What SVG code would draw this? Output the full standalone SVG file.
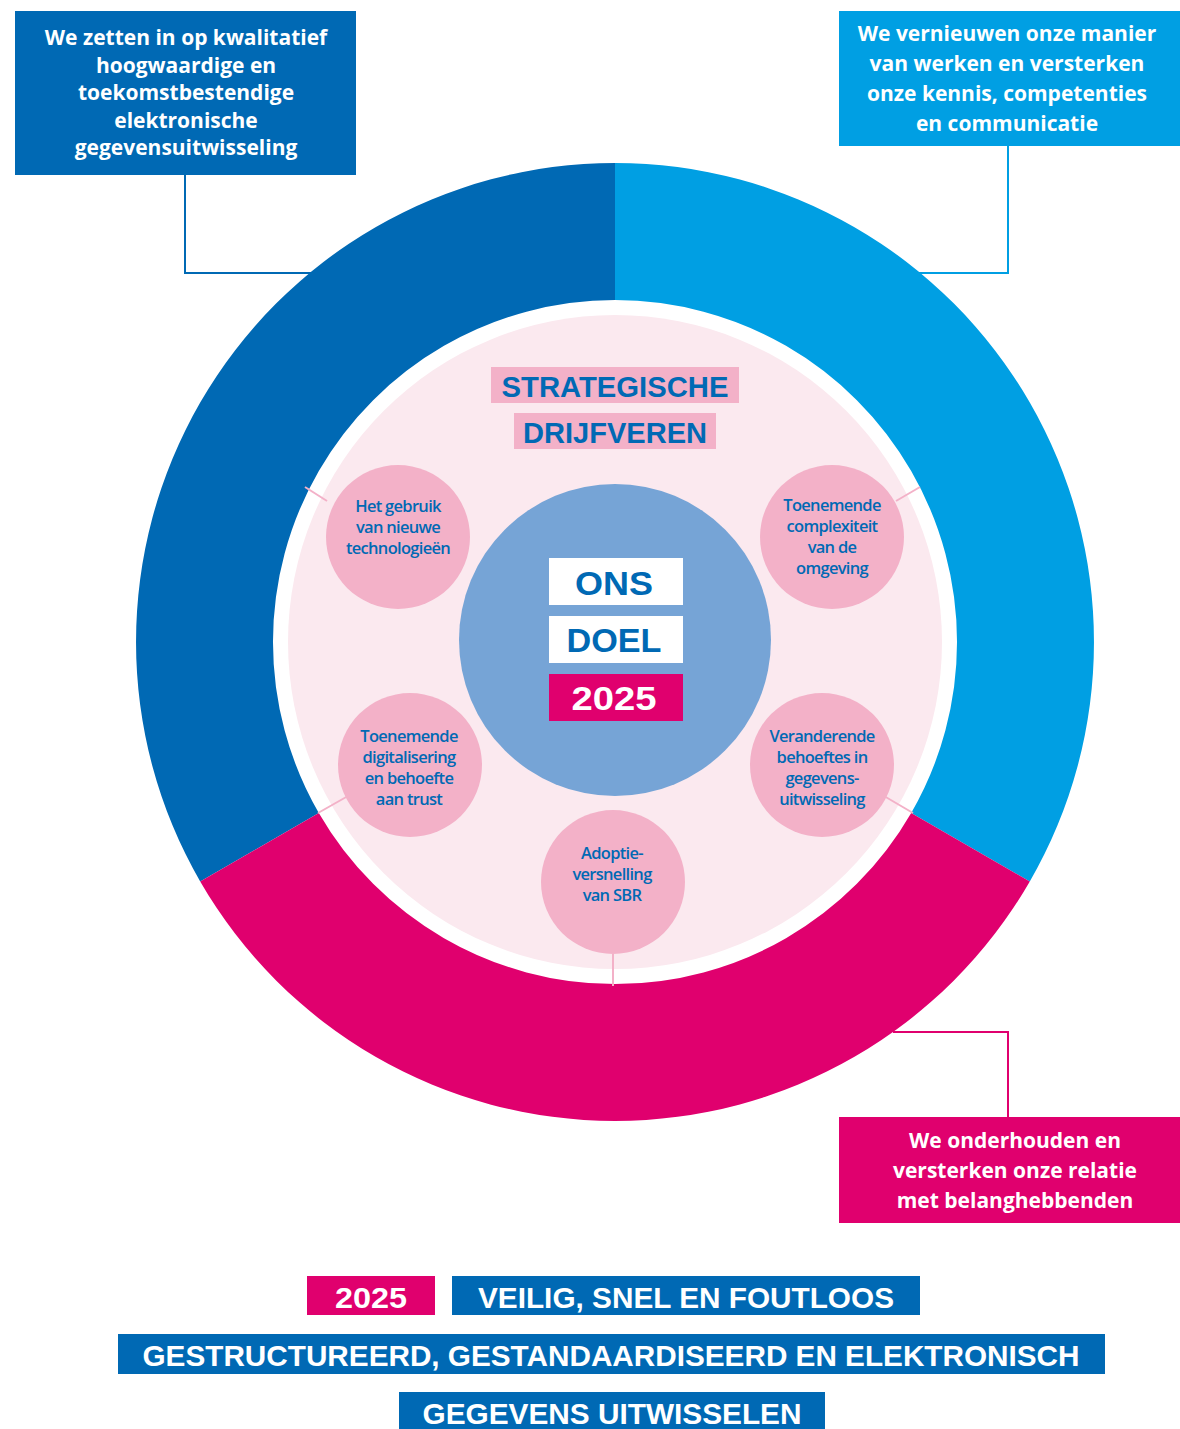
<svg xmlns="http://www.w3.org/2000/svg" width="1180" height="1429" viewBox="0 0 1180 1429">
<style>
.box{font-family:"Open Sans","Noto Sans",sans-serif;font-weight:700;font-size:21px;fill:#fff;text-anchor:middle}
.dr{font-family:"Open Sans","Noto Sans",sans-serif;font-weight:600;font-size:16.5px;fill:#0069b4;text-anchor:middle;letter-spacing:-0.7px}
.cap{font-family:"Liberation Sans",Arial,sans-serif;font-weight:700;text-anchor:middle}
.sc{fill:#f3b1c8}
.lk{stroke:#f3b1c8;stroke-width:2;fill:none}
</style>
<rect width="1180" height="1429" fill="#fff"/>
<g id="ring">
<path d="M615,163 A479,479 0 0 0 200.2,881.5 L318.8,813 A342,342 0 0 1 615,300 Z" fill="#0069b4"/>
<path d="M615,163 A479,479 0 0 1 1029.8,881.5 L911.2,813 A342,342 0 0 0 615,300 Z" fill="#009fe3"/>
<path d="M200.2,881.5 A479,479 0 0 0 1029.8,881.5 L911.2,813 A342,342 0 0 1 318.8,813 Z" fill="#e0006e"/>
</g>
<circle id="drivers-disc" cx="615" cy="642" r="327" fill="#fbe9ef"/>
<g id="connectors">
<path d="M185,175 V273 H311" stroke="#0069b4" stroke-width="2" fill="none"/>
<path d="M1008,146 V273 H918" stroke="#009fe3" stroke-width="2" fill="none"/>
<path d="M1008,1117 V1032 H893" stroke="#e0006e" stroke-width="2" fill="none"/>
<line class="lk" x1="327" y1="501" x2="305" y2="487"/>
<line class="lk" x1="896" y1="501" x2="920" y2="487"/>
<line class="lk" x1="348" y1="796" x2="318" y2="813"/>
<line class="lk" x1="884" y1="796" x2="913" y2="813"/>
<line class="lk" x1="613" y1="954" x2="613" y2="986"/>
</g>
<g id="box-tl">
<rect x="15" y="11" width="341" height="164" fill="#0069b4"/>
<text class="box"><tspan x="186" y="45">We zetten in op kwalitatief</tspan><tspan x="186" y="72.5">hoogwaardige en</tspan><tspan x="186" y="100">toekomstbestendige</tspan><tspan x="186" y="127.5">elektronische</tspan><tspan x="186" y="155">gegevensuitwisseling</tspan></text>
</g>
<g id="box-tr">
<rect x="839" y="11" width="341" height="135" fill="#009fe3"/>
<text class="box"><tspan x="1007" y="41">We vernieuwen onze manier</tspan><tspan x="1007" y="71">van werken en versterken</tspan><tspan x="1007" y="101">onze kennis, competenties</tspan><tspan x="1007" y="131">en communicatie</tspan></text>
</g>
<g id="box-br">
<rect x="839" y="1117" width="341" height="106" fill="#e0006e"/>
<text class="box"><tspan x="1015" y="1148">We onderhouden en</tspan><tspan x="1015" y="1178">versterken onze relatie</tspan><tspan x="1015" y="1208">met belanghebbenden</tspan></text>
</g>
<g id="title">
<rect x="491" y="367" width="248" height="36" fill="#f3b1c8"/>
<text class="cap" x="615" y="397" font-size="29" fill="#0069b4" textLength="227" lengthAdjust="spacingAndGlyphs">STRATEGISCHE</text>
<rect x="514" y="413" width="202" height="36" fill="#f3b1c8"/>
<text class="cap" x="615" y="443" font-size="29" fill="#0069b4" textLength="184" lengthAdjust="spacingAndGlyphs">DRIJFVEREN</text>
</g>
<g id="goal">
<circle cx="615" cy="640" r="156" fill="#76a4d6"/>
<rect x="549" y="558" width="134" height="47" fill="#fff"/>
<text class="cap" x="614" y="595" font-size="34" fill="#0069b4" textLength="78" lengthAdjust="spacingAndGlyphs">ONS</text>
<rect x="549" y="616" width="134" height="47" fill="#fff"/>
<text class="cap" x="614" y="652" font-size="34" fill="#0069b4" textLength="95" lengthAdjust="spacingAndGlyphs">DOEL</text>
<rect x="549" y="674" width="134" height="47" fill="#e0006e"/>
<text class="cap" x="614" y="710" font-size="34" fill="#fff" textLength="85" lengthAdjust="spacingAndGlyphs">2025</text>
</g>
<g id="driver-1">
<circle class="sc" cx="398" cy="537" r="72"/>
<text class="dr"><tspan x="398" y="512">Het gebruik</tspan><tspan x="398" y="533">van nieuwe</tspan><tspan x="398" y="554">technologieën</tspan></text>
</g>
<g id="driver-2">
<circle class="sc" cx="832" cy="537" r="72"/>
<text class="dr"><tspan x="832" y="511">Toenemende</tspan><tspan x="832" y="532">complexiteit</tspan><tspan x="832" y="553">van de</tspan><tspan x="832" y="574">omgeving</tspan></text>
</g>
<g id="driver-3">
<circle class="sc" cx="410" cy="765" r="72"/>
<text class="dr"><tspan x="409" y="742">Toenemende</tspan><tspan x="409" y="763">digitalisering</tspan><tspan x="409" y="784">en behoefte</tspan><tspan x="409" y="805">aan trust</tspan></text>
</g>
<g id="driver-4">
<circle class="sc" cx="822" cy="765" r="72"/>
<text class="dr"><tspan x="822" y="742">Veranderende</tspan><tspan x="822" y="763">behoeftes in</tspan><tspan x="822" y="784">gegevens-</tspan><tspan x="822" y="805">uitwisseling</tspan></text>
</g>
<g id="driver-5">
<circle class="sc" cx="613" cy="882" r="72"/>
<text class="dr"><tspan x="612" y="859">Adoptie-</tspan><tspan x="612" y="880">versnelling</tspan><tspan x="612" y="901">van SBR</tspan></text>
</g>
<g id="bottom">
<rect x="307" y="1276" width="128" height="39" fill="#e0006e"/>
<text class="cap" x="371" y="1308" font-size="30" fill="#fff" textLength="72" lengthAdjust="spacingAndGlyphs">2025</text>
<rect x="452" y="1276" width="468" height="39" fill="#0069b4"/>
<text class="cap" x="686" y="1308" font-size="30" fill="#fff" textLength="416" lengthAdjust="spacingAndGlyphs">VEILIG, SNEL EN FOUTLOOS</text>
<rect x="118" y="1334" width="987" height="40" fill="#0069b4"/>
<text class="cap" x="611" y="1366" font-size="30" fill="#fff" textLength="937" lengthAdjust="spacingAndGlyphs">GESTRUCTUREERD, GESTANDAARDISEERD EN ELEKTRONISCH</text>
<rect x="399" y="1392" width="426" height="37" fill="#0069b4"/>
<text class="cap" x="612" y="1424" font-size="30" fill="#fff" textLength="379" lengthAdjust="spacingAndGlyphs">GEGEVENS UITWISSELEN</text>
</g>
</svg>
